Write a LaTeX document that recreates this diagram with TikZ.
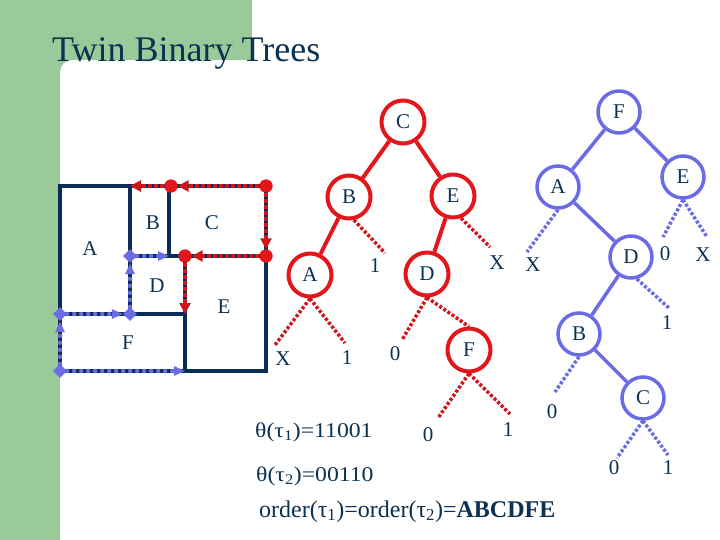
\documentclass[tikz,border=0pt]{standalone}
\usepackage{fontspec}
\usepackage{graphicx}
\setmainfont{Liberation Serif}
\usetikzlibrary{arrows.meta,shapes.geometric}
\definecolor{bggreen}{HTML}{9ACA9A}
\definecolor{navy}{HTML}{0B3153}
\definecolor{rline}{HTML}{0A2D58}
\definecolor{tred}{HTML}{E3161B}
\definecolor{dred}{HTML}{D0151C}
\definecolor{tblue}{HTML}{6B6BE6}
\tikzset{
  lbl/.style={text=navy, font=\fontsize{21}{24}\selectfont, inner sep=0pt},
  rnode/.style={circle, draw=tred, line width=4pt, minimum size=43pt, inner sep=0pt, text=navy, font=\fontsize{21}{24}\selectfont},
  bnode/.style={circle, draw=tblue, line width=3.5pt, minimum size=42pt, inner sep=0pt, text=navy, font=\fontsize{21}{24}\selectfont},
  rsolid/.style={draw=tred, line width=4pt},
  bsolid/.style={draw=tblue, line width=3.5pt},
  rdots/.style={draw=dred, line width=3.5pt, dash pattern=on 3pt off 2pt},
  bdots/.style={draw=tblue, line width=3.5pt, dash pattern=on 3pt off 2pt},
  rectline/.style={draw=rline, line width=4pt},
  rpath/.style={draw=dred, line width=4pt, dash pattern=on 4pt off 2pt, -{Triangle[length=11pt,width=11pt]}},
  bpath/.style={draw=tblue, line width=4.5pt, line cap=round, dash pattern=on 0pt off 7pt, -{Triangle[length=11pt,width=9pt]}},
  rdotmark/.style={circle, fill=tred, minimum size=13pt, inner sep=0pt},
  bdiamark/.style={diamond, fill=tblue, minimum size=14pt, inner sep=0pt},
  formula/.style={anchor=base west, text=navy, inner sep=0pt},
}
\begin{document}
\begin{tikzpicture}[x=1pt,y=-1pt]
\useasboundingbox (0,0) rectangle (720,540);
\fill[white] (0,0) rectangle (720,540);
\fill[bggreen] (0,0) rectangle (252,60);
\fill[bggreen] (0,0) rectangle (60,540);
\fill[bggreen] (60,60) -- (72,60) .. controls (65.4,60) and (60,65.4) .. (60,72) -- cycle;

\node[anchor=base west, text=navy, font=\fontsize{36}{40}\selectfont, inner sep=0pt] (title) at (52,62) {Twin Binary Trees};

% rectangle partition
\draw[rectline] (60,186) rectangle (266,371);
\draw[rectline] (130,186) -- (130,314);
\draw[rectline] (169,186) -- (169,256);
\draw[rectline] (130,256) -- (266,256);
\draw[rectline] (185,256) -- (185,371);
\draw[rectline] (60,314) -- (185,314);

\node[lbl] (qA) at (90,249) {A};
\node[lbl] (qB) at (153,223) {B};
\node[lbl] (qC) at (212,223) {C};
\node[lbl] (qD) at (157,286) {D};
\node[lbl] (qE) at (224,307) {E};
\node[lbl] (qF) at (128,343) {F};

% red path
\node[rdotmark] (r1) at (266,186) {};
\node[rdotmark] (r2) at (171,186) {};
\node[rdotmark] (r3) at (266,256) {};
\node[rdotmark] (r4) at (185,256) {};
\coordinate (r5) at (130,186);
\coordinate (r6) at (185,314);
\draw[rpath] (r1) -- (r2);
\draw[rpath] (r2) -- (r5);
\draw[rpath] (r1) -- (r3);
\draw[rpath] (r3) -- (r4);
\draw[rpath] (r4) -- (r6);
\node[rdotmark] at (r1) {};
\node[rdotmark] at (r2) {};
\node[rdotmark] at (r3) {};
\node[rdotmark] at (r4) {};

% blue path
\node[bdiamark] (b1) at (60,371) {};
\node[bdiamark] (b2) at (60,314) {};
\node[bdiamark] (b3) at (130,314) {};
\node[bdiamark] (b4) at (130,256) {};
\coordinate (b5) at (185,371);
\coordinate (b6) at (169,256);
\draw[bpath] (b1) -- (b5);
\draw[bpath] (b1) -- (b2);
\draw[bpath] (b2) -- (b3);
\draw[bpath] (b3) -- (b4);
\draw[bpath] (b4) -- (b6);

% red tree
\node[rnode] (rC) at (403,122) {C};
\node[rnode] (rB) at (349,197) {B};
\node[rnode] (rE) at (453,196) {E};
\node[rnode] (rA) at (310,275) {A};
\node[rnode] (rD) at (427,274) {D};
\node[rnode] (rF) at (469,350) {F};
\draw[rsolid] (rC) -- (rB);
\draw[rsolid] (rC) -- (rE);
\draw[rsolid] (rB) -- (rA);
\draw[rsolid] (rE) -- (rD);
\draw[rdots] (rD.south) -- (rF.north);

\coordinate (rB1e) at (385,253);
\coordinate (rEXe) at (490,247);
\coordinate (rAXe) at (275,345);
\coordinate (rA1e) at (345,343);
\coordinate (rD0e) at (402,340);
\coordinate (rF0e) at (438,418);
\coordinate (rF1e) at (510,414);
\draw[rdots] (rB.-78) -- (rB1e);
\draw[rdots] (rE.-70) -- (rEXe);
\draw[rdots] (rA.south) -- (rAXe);
\draw[rdots] (rA.south) -- (rA1e);
\draw[rdots] (rD.south) -- (rD0e);
\draw[rdots] (rF.south) -- (rF0e);
\draw[rdots] (rF.south) -- (rF1e);
\node[lbl] (rB1) at (375,266) {1};
\node[lbl] (rEX) at (497,263) {X};
\node[lbl] (rAX) at (283,359) {X};
\node[lbl] (rA1) at (347,358) {1};
\node[lbl] (rD0) at (395,354) {0};
\node[lbl] (rF0) at (428,435) {0};
\node[lbl] (rF1) at (508,430) {1};

% blue tree
\node[bnode] (bF) at (619,112) {F};
\node[bnode] (bA) at (558,187) {A};
\node[bnode] (bE) at (683,177) {E};
\node[bnode] (bD) at (631,257) {D};
\node[bnode] (bB) at (579,334) {B};
\node[bnode] (bC) at (643,398) {C};
\draw[bsolid] (bF) -- (bA);
\draw[bsolid] (bF) -- (bE);
\draw[bsolid] (bA) -- (bD);
\draw[bsolid] (bD) -- (bB);
\draw[bsolid] (bB) -- (bC);

\coordinate (bAXe) at (527,252);
\coordinate (bE0e) at (663,237);
\coordinate (bEXe) at (707,237);
\coordinate (bD1e) at (670,309);
\coordinate (bB0e) at (555,392);
\coordinate (bC0e) at (617,458);
\coordinate (bC1e) at (668,455);
\draw[bdots] (bA.south) -- (bAXe);
\draw[bdots] (bE.south) -- (bE0e);
\draw[bdots] (bE.south) -- (bEXe);
\draw[bdots] (bD.-75) -- (bD1e);
\draw[bdots] (bB.south) -- (bB0e);
\draw[bdots] (bC.south) -- (bC0e);
\draw[bdots] (bC.south) -- (bC1e);
\node[lbl] (bAX) at (533,265) {X};
\node[lbl] (bE0) at (665,254) {0};
\node[lbl] (bEX) at (703,255) {X};
\node[lbl] (bD1) at (667,323) {1};
\node[lbl] (bB0) at (552,412) {0};
\node[lbl] (bC0) at (614,468) {0};
\node[lbl] (bC1) at (668,468) {1};

% texts
\node[formula, font=\fontsize{21}{25}\selectfont] (th1) at (255,437) {\scalebox{1.13}[1]{θ(τ\textsubscript{1})=11001}};
\node[formula, font=\fontsize{21}{25}\selectfont] (th2) at (256,481) {\scalebox{1.13}[1]{θ(τ\textsubscript{2})=00110}};
\node[formula, font=\fontsize{24}{28}\selectfont] (ord) at (259,517) {order(τ\textsubscript{1})=order(τ\textsubscript{2})=\textbf{ABCDFE}};
\end{tikzpicture}
\end{document}
